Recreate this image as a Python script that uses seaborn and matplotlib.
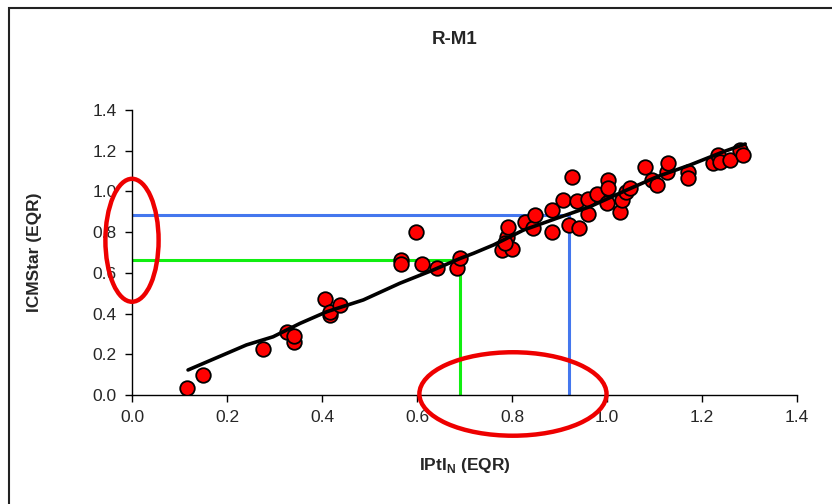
import numpy as np
import pandas as pd
import seaborn as sns
import matplotlib.pyplot as plt
from matplotlib.patches import Ellipse, Rectangle

# ---- data ----
ipti_n = [0.115, 0.149, 0.275, 0.326, 0.340, 0.340, 0.406, 0.417, 0.417, 0.438,
          0.566, 0.566, 0.598, 0.610, 0.643, 0.685, 0.691,
          0.778, 0.789, 0.792, 0.800, 0.785,
          0.827, 0.845, 0.848, 0.884, 0.884, 0.908, 0.919, 0.926, 0.936, 0.940,
          0.961, 0.961, 0.978, 0.999, 1.003, 1.003, 1.027, 1.031, 1.041, 1.048,
          1.080, 1.094, 1.105, 1.126, 1.129, 1.171, 1.171,
          1.224, 1.234, 1.238, 1.259, 1.280, 1.287]
icmstar = [0.033, 0.098, 0.224, 0.311, 0.262, 0.290, 0.470, 0.393, 0.410, 0.442,
           0.663, 0.643, 0.802, 0.643, 0.622, 0.622, 0.671,
           0.712, 0.778, 0.827, 0.716, 0.745,
           0.851, 0.819, 0.884, 0.909, 0.802, 0.958, 0.835, 1.069, 0.954, 0.819,
           0.961, 0.889, 0.987, 0.941, 1.056, 1.015, 0.900, 0.958, 0.999, 1.015,
           1.121, 1.056, 1.031, 1.097, 1.138, 1.097, 1.064,
           1.138, 1.179, 1.146, 1.154, 1.203, 1.179]

trend_x = [0.118, 0.241, 0.297, 0.354, 0.410, 0.487, 0.564, 0.634, 0.691,
           0.719, 0.761, 0.824, 0.894, 0.964, 1.034, 1.105, 1.175, 1.245, 1.291]
trend_y = [0.123, 0.246, 0.286, 0.352, 0.409, 0.467, 0.549, 0.614, 0.671,
           0.696, 0.737, 0.810, 0.868, 0.925, 0.999, 1.072, 1.130, 1.195, 1.233]

blue_x, blue_y = 0.92, 0.885
green_x, green_y = 0.69, 0.665

xticks = [0.0, 0.2, 0.4, 0.6, 0.8, 1.0, 1.2, 1.4]
yticks = [0.0, 0.2, 0.4, 0.6, 0.8, 1.0, 1.2, 1.4]

df = pd.DataFrame({"IPtI_N": ipti_n, "ICMStar": icmstar})
trend = pd.DataFrame({"x": trend_x, "y": trend_y})

sns.set_theme(style="white")
plt.rcParams['font.family'] = ['Liberation Sans', 'DejaVu Sans']

fig = plt.figure(figsize=(8.32, 5.04), dpi=100)
ax = fig.add_axes([132/832, 1 - 395/504, (797-132)/832, (395-110)/504])

# frame around chart area (only top and left visible)
fig.patches.append(Rectangle((9/832, -0.1), 1.2, 1 - 8/504 + 0.1,
                             transform=fig.transFigure, fill=False,
                             edgecolor='#222222', linewidth=1.5))

# reference lines
ax.plot([0, blue_x, blue_x], [blue_y, blue_y, 0], color='#4477ee', lw=2.2,
        solid_capstyle='butt', zorder=2)
ax.plot([0, green_x, green_x], [green_y, green_y, 0], color='#11ee11', lw=2.2,
        solid_capstyle='butt', zorder=2)

sns.lineplot(data=trend, x="x", y="y", ax=ax, color='black', lw=2.6,
             sort=False, zorder=4)
sns.scatterplot(data=df, x="IPtI_N", y="ICMStar", ax=ax, color='#ff0000',
                edgecolor='black', linewidth=1.3, s=110, zorder=3)

# red ellipses
ax.add_patch(Ellipse((0.0, 0.76), 0.112, 0.604, fill=False, edgecolor='#ee0000',
                     lw=3.2, clip_on=False, zorder=5))
ax.add_patch(Ellipse((0.802, 0.005), 0.394, 0.41, fill=False, edgecolor='#ee0000',
                     lw=3.2, clip_on=False, zorder=5))

ax.set_xlim(0, 1.4)
ax.set_ylim(0, 1.4)
ax.set_xticks(xticks)
ax.set_yticks(yticks)
ax.set_xticklabels([f"{v:.1f}" for v in xticks], fontsize=12.5)
ax.set_yticklabels([f"{v:.1f}" for v in yticks], fontsize=12.5)
ax.tick_params(axis='both', direction='out', length=5, width=1, color='black',
               bottom=True, left=True, pad=6)
for s in ['top', 'right']:
    ax.spines[s].set_visible(False)
for s in ['left', 'bottom']:
    ax.spines[s].set_color('black')
    ax.spines[s].set_linewidth(1)

ax.set_xlabel(r"IPtI$_\mathregular{N}$ (EQR)", fontsize=12.5, fontweight='bold',
              labelpad=22)
ax.set_ylabel("ICMStar (EQR)", fontsize=12.5, fontweight='bold', labelpad=36)
fig.text(455/832, 1 - 40/504, "R-M1", fontsize=13.5, fontweight='bold',
         ha='center', va='center')

fig.savefig("out.png", dpi=100)
